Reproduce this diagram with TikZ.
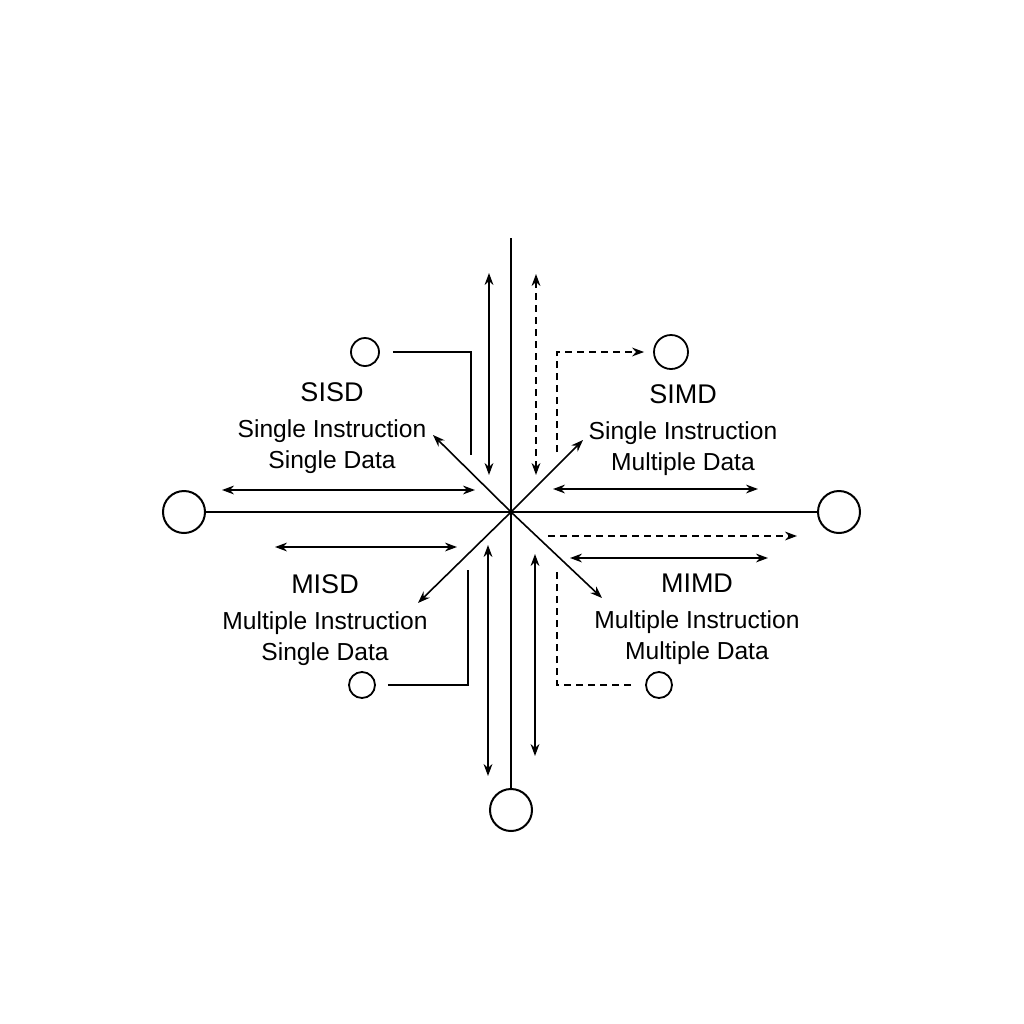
\documentclass[tikz,border=0pt]{standalone}
\usepackage{fontspec}
\setmainfont{Liberation Sans}
\usetikzlibrary{arrows.meta}
\usetikzlibrary{positioning}

\begin{document}
\begin{tikzpicture}
[x=0.5pt,y=-0.5pt,>={Stealth[length=6pt,width=4.4pt]},
bigc/.style={circle,draw=black,line width=1pt,inner sep=0pt,minimum size=21pt},
smallc/.style={circle,draw=black,line width=0.9pt,inner sep=0pt,minimum size=13.5pt},
mainline/.style={black,line width=1pt},
arr/.style={black,line width=0.8pt},
dsh/.style={black,line width=0.8pt,dash pattern=on 3.5pt off 2.5pt},
lbl/.style={align=center,font=\fontsize{12.3}{15.5}\selectfont}]
\useasboundingbox (0,0) rectangle (1024,1024);

% axes
\coordinate (c) at (511,512);
\coordinate (top) at (511,238);
\node[bigc] (bot) at (511,810) {};
\node[bigc] (lft) at (184,512) {};
\node[bigc] (rgt) at (839,512) {};
\draw [mainline] (top) -- (bot);
\draw [mainline] (lft) -- (rgt);

% diagonals
\coordinate (ul) at (433,435);
\coordinate (ur) at (583,440);
\coordinate (ll) at (418,603);
\coordinate (lr) at (602,598);
\draw [arr,->] (c) -- (ul);
\draw [arr,->] (c) -- (ur);
\draw [arr,->] (c) -- (ll);
\draw [arr,->] (c) -- (lr);

% vertical double arrows
\coordinate (v1a) at (489,273); \coordinate (v1b) at (489,475);
\coordinate (v2a) at (536,274); \coordinate (v2b) at (536,475);
\coordinate (v3a) at (488,545); \coordinate (v3b) at (488,776);
\coordinate (v4a) at (535,554); \coordinate (v4b) at (535,756);
\draw [arr,<->] (v1a) -- (v1b);
\draw [dsh,<->] (v2a) -- (v2b);
\draw [arr,<->] (v3a) -- (v3b);
\draw [arr,<->] (v4a) -- (v4b);

% horizontal double arrows
\coordinate (h1a) at (222,490); \coordinate (h1b) at (475,490);
\coordinate (h2a) at (553,489); \coordinate (h2b) at (758,489);
\coordinate (h3a) at (275,547); \coordinate (h3b) at (457,547);
\coordinate (h4a) at (570,558); \coordinate (h4b) at (768,558);
\coordinate (h5a) at (548,536); \coordinate (h5b) at (797,536);
\draw [arr,<->] (h1a) -- (h1b);
\draw [arr,<->] (h2a) -- (h2b);
\draw [arr,<->] (h3a) -- (h3b);
\draw [arr,<->] (h4a) -- (h4b);
\draw [dsh,->] (h5a) -- (h5b);

% small circles and elbows
\node[smallc,minimum size=14pt] (sisd) at (365,352) {};
\node[smallc,minimum size=17pt] (simd) at (671,352) {};
\node[smallc,minimum size=13pt] (misd) at (362,685) {};
\node[smallc,minimum size=13pt] (mimd) at (659,685) {};
\coordinate (sisdend) at (471,455);
\coordinate (simdend) at (557,452);
\coordinate (misdend) at (468,570);
\coordinate (mimdend) at (557,572);
\draw [arr,shorten <=6.5pt] (sisd) -| (sisdend);
\draw [dsh,->,shorten >=4.5pt] (simdend) |- (simd);
\draw [arr,shorten <=6pt] (misd) -| (misdend);
\draw [dsh,shorten <=7pt] (mimd) -| (mimdend);

% labels
\node[lbl] (sisdtxt) at (332,428) {{\fontsize{13.5}{16}\selectfont SISD}\\[2.5pt]Single Instruction\\Single Data};
\node[lbl] (simdtxt) at (683,430) {{\fontsize{13.5}{16}\selectfont SIMD}\\[2.5pt]Single Instruction\\Multiple Data};
\node[lbl] (misdtxt) at (325,620) {{\fontsize{13.5}{16}\selectfont MISD}\\[2.5pt]Multiple Instruction\\Single Data};
\node[lbl] (mimdtxt) at (697,619) {{\fontsize{13.5}{16}\selectfont MIMD}\\[2.5pt]Multiple Instruction\\Multiple Data};
\end{tikzpicture}
\end{document}
